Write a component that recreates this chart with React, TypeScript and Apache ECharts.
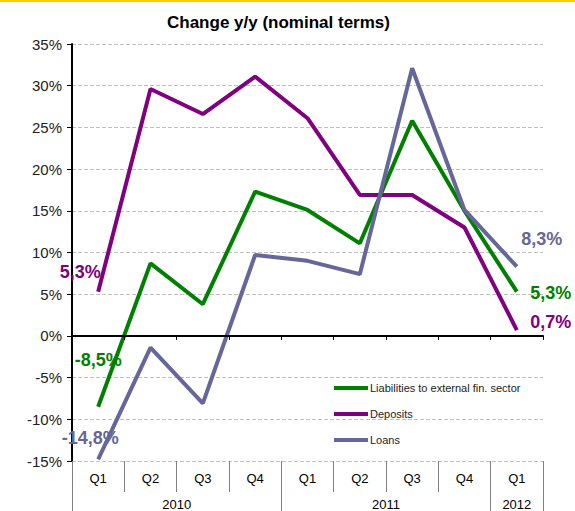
import React, { useEffect, useRef } from "react";
import * as echarts from "echarts";

const quarters = ["Q1", "Q2", "Q3", "Q4", "Q1", "Q2", "Q3", "Q4", "Q1"];
const years = ["2010", "2011", "2012"];
const yearCenters = [2, 6, 8.5];
const yearBounds = [0, 4, 8, 9];
const liabilities = [-8.5, 8.7, 3.8, 17.3, 15.1, 11.1, 25.8, 15.0, 5.3];
const deposits = [5.3, 29.6, 26.6, 31.1, 26.1, 16.9, 16.9, 13.0, 0.7];
const loans = [-14.8, -1.4, -8.1, 9.7, 9.0, 7.4, 32.1, 15.1, 8.3];
const seriesNames = ["Liabilities to external fin. sector", "Deposits", "Loans"];
const colors = ["#008000", "#800080", "#666699"];

const FONT = "Liberation Sans, Arial, sans-serif";

function withLabels(values: number[], labels: Record<number, { text: string; offset: number[] }>, color: string) {
  return values.map((v, i) => {
    const l = labels[i];
    if (!l) return v;
    return {
      value: v,
      label: {
        show: true,
        formatter: l.text,
        position: "inside",
        offset: l.offset,
        color,
        fontSize: 18,
        fontWeight: "bold",
        fontFamily: FONT,
      },
    };
  });
}

export default function App() {
  const ref = useRef<HTMLDivElement>(null);
  useEffect(() => {
    const chart = echarts.init(ref.current!, null, { renderer: "svg" });
    const fmt = (v: number) => (Math.round(v * 10) / 10).toFixed(1).replace(".", ",") + "%";
    const last = quarters.length - 1;
    chart.setOption({
      animation: false,
      backgroundColor: "#ffffff",
      textStyle: { fontFamily: FONT },
      title: {
        text: "Change y/y (nominal terms)",
        left: 162,
        top: 9,
        textStyle: { fontSize: 17, fontWeight: "bold", color: "#000", fontFamily: FONT },
      },
      graphic: [
        { type: "rect", shape: { x: 0, y: 0, width: 575, height: 2 }, style: { fill: "#FFCC00" } },
      ],
      legend: {
        orient: "vertical",
        left: 329,
        top: 376,
        icon: "rect",
        itemWidth: 34,
        itemHeight: 4,
        itemGap: 12,
        data: seriesNames,
        textStyle: { fontSize: 11, color: "#222", fontFamily: FONT, padding: [0, 0, 0, -3], lineHeight: 14 },
      },
      grid: { left: 72, right: 32, top: 44, bottom: 50, containLabel: false },
      xAxis: [
        {
          type: "category",
          data: quarters,
          position: "bottom",
          axisLine: { show: true, onZero: true, lineStyle: { color: "#000", width: 2 } },
          axisTick: { show: true, length: 4, lineStyle: { color: "#000", width: 1 } },
          axisLabel: { show: false },
          splitLine: { show: false },
          z: 5,
        },
        {
          type: "category",
          data: quarters,
          position: "bottom",
          axisLine: { show: false, onZero: false },
          axisTick: { show: true, length: 31, lineStyle: { color: "#808080", width: 1 } },
          axisLabel: { show: true, margin: 11, fontSize: 13, color: "#000", fontFamily: FONT },
          splitLine: { show: false },
        },
        {
          type: "value",
          min: 0,
          max: 9,
          position: "bottom",
          axisLine: { show: false, onZero: false },
          axisTick: { show: true, length: 50, customValues: yearBounds, lineStyle: { color: "#808080", width: 1 } },
          axisLabel: {
            show: true,
            margin: 37,
            fontSize: 13,
            color: "#000",
            fontFamily: FONT,
            customValues: yearCenters,
            formatter: (v: number) => years[yearCenters.indexOf(v)] ?? "",
          },
          splitLine: { show: false },
        },
      ],
      yAxis: {
        type: "value",
        min: -15,
        max: 35,
        interval: 5,
        axisLine: { show: true, lineStyle: { color: "#000", width: 2 } },
        axisTick: { show: true, length: 5, lineStyle: { color: "#000", width: 1 } },
        axisLabel: { formatter: "{value}%", fontSize: 15, color: "#222", fontFamily: FONT, margin: 10 },
        splitLine: { show: true, lineStyle: { color: "#c0c0c0", type: [4, 2], width: 1 } },
      },
      series: [
        {
          name: seriesNames[0],
          type: "line",
          xAxisIndex: 0,
          data: withLabels(liabilities, { 0: { text: fmt(liabilities[0]), offset: [0, -47] }, [last]: { text: fmt(liabilities[last]), offset: [34, 1] } }, colors[0]),
          symbol: "circle",
          symbolSize: 0.1,
          lineStyle: { width: 4, color: colors[0] },
          itemStyle: { color: colors[0] },
          z: 3,
        },
        {
          name: seriesNames[1],
          type: "line",
          xAxisIndex: 0,
          data: withLabels(deposits, { 0: { text: fmt(deposits[0]), offset: [-18, -20] }, [last]: { text: fmt(deposits[last]), offset: [34, -8] } }, colors[1]),
          symbol: "circle",
          symbolSize: 0.1,
          lineStyle: { width: 4, color: colors[1] },
          itemStyle: { color: colors[1] },
          z: 2,
        },
        {
          name: seriesNames[2],
          type: "line",
          xAxisIndex: 0,
          data: withLabels(loans, { 0: { text: fmt(loans[0]), offset: [-8, -21] }, [last]: { text: fmt(loans[last]), offset: [25, -28] } }, colors[2]),
          symbol: "circle",
          symbolSize: 0.1,
          lineStyle: { width: 4, color: colors[2] },
          itemStyle: { color: colors[2] },
          z: 4,
        },
      ],
    });
    return () => chart.dispose();
  }, []);
  return <div ref={ref} style={{ position: "fixed", left: 0, top: 0, width: 575, height: 511 }} />;
}
